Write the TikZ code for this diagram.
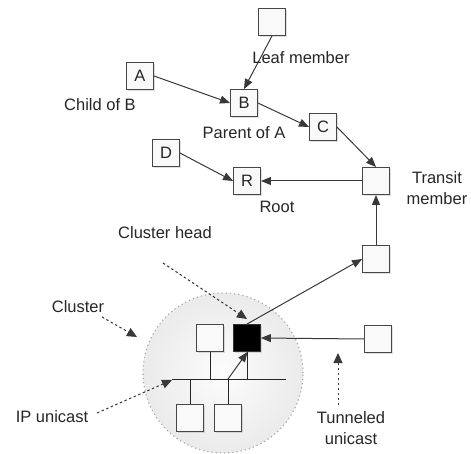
\documentclass[tikz,border=0pt]{standalone}
\usepackage{fontspec}
\setmainfont{Liberation Sans}
\usetikzlibrary{arrows.meta,shadows}

\begin{document}
\begin{tikzpicture}[x=1pt,y=-1pt,
  txt/.style={font=\fontsize{16.5}{21.5}\selectfont, text=black!85},
  member/.style={txt, draw=gray!55!black, fill=gray!5, minimum size=27pt,
    inner sep=0pt, line width=0.9pt,
    drop shadow={shadow xshift=1.2pt, shadow yshift=-1.2pt, opacity=0.25}},
  head/.style={member, fill=black, draw=black!80},
  link/.style={draw=gray!45!black, line width=1pt,
    -{Triangle[length=10pt,width=8pt]}},
  hint/.style={draw=gray!45!black, line width=1pt,
    dash pattern=on 2.5pt off 2.5pt,
    -{Triangle[length=10pt,width=9pt]}},
  lbl/.style={txt, align=center, inner sep=1pt},
  wire/.style={draw=black!85, line width=1pt}
]
\useasboundingbox (0,0) rectangle (471,454);

% cluster area
\shade[inner color=gray!2, outer color=gray!16] (223,373) circle[radius=80pt];
\draw[gray!70, line width=1.1pt, dash pattern=on 1.2pt off 3pt] (223,373) circle[radius=80pt];

% tree members
\node[member] (leaf) at (272,22) {};
\node[member] (A) at (140,76) {A};
\node[member] (B) at (244,103) {B};
\node[member] (C) at (323,127) {C};
\node[member] (D) at (166,153) {D};
\node[member] (R) at (247,181) {R};
\node[member] (transit) at (376,181) {};
\node[member] (mid) at (376,259) {};
\node[member] (tun) at (378,339) {};

% cluster members
\node[member] (w1) at (210,338) {};
\node[head] (ch) at (247,338) {};
\node[member] (b1) at (190,418) {};
\node[member] (b2) at (228,418) {};

% shared segment inside the cluster
\coordinate (busL) at (172,379);
\coordinate (busR) at (286,379);
\draw[wire] (busL) -- (busR);
\draw[wire] (w1.south) -- (w1.south |- busL);
\draw[wire] (ch.south) -- (ch.south |- busL);
\draw[wire] (b1.north) -- (b1.north |- busL);
\draw[wire] (b2.north) -- (b2.north |- busL);

% forwarding links
\draw[link] (leaf.south) -- (B.north);
\draw[link] (A.east) -- (B.west);
\draw[link] (B.east) -- (C.west);
\draw[link] (C.east) -- (transit.north);
\draw[link] (D.east) -- (R.west);
\draw[link] (transit.west) -- (R.east);
\draw[link] (mid.north) -- (transit.south);
\draw[link] (ch.north) -- (mid.west);
\draw[link] (tun.west) -- (ch.east);
\draw[link] (b2.north |- busL) -- ([xshift=0.5pt]ch.south);

% labels
\node[lbl] (lleaf) at (301,58) {Leaf member};
\node[lbl] (lchild) at (100,105) {Child of B};
\node[lbl] (lparent) at (244,133) {Parent of A};
\node[lbl] (lroot) at (277,207) {Root};
\node[lbl] (ltransit) at (437,188) {Transit\\member};
\node[lbl] (lhead) at (165,233) {Cluster head};
\node[lbl] (lcluster) at (78,307) {Cluster};
\node[lbl] (lip) at (52,417) {IP unicast};
\node[lbl] (ltun) at (351,428) {Tunneled\\unicast};

% pointer arrows for the annotations
\coordinate (headTail) at (163,263);
\coordinate (headTip) at (247,319);
\coordinate (clTail) at (102,317);
\coordinate (clTip) at (137,337);
\coordinate (ipTail) at (97,413);
\coordinate (ipTip) at (172,380);
\coordinate (tunTail) at (338,405);
\coordinate (tunTip) at (338,353);
\draw[hint] (headTail) -- (headTip);
\draw[hint] (clTail) -- (clTip);
\draw[hint] (ipTail) -- (ipTip);
\draw[hint] (tunTail) -- (tunTip);
\end{tikzpicture}
\end{document}
